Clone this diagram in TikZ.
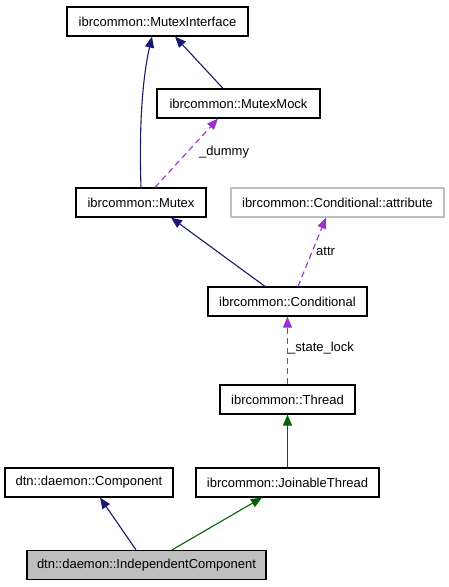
\documentclass[tikz,border=0pt]{standalone}
\usepackage{fontspec}
\setmainfont{Liberation Sans}
\usetikzlibrary{arrows.meta}
\definecolor{navyedge}{HTML}{191970}
\definecolor{greenedge}{HTML}{006400}
\definecolor{purpleedge}{HTML}{9A32CD}
\definecolor{graybox}{HTML}{BFBFBF}
\tikzset{
  cls/.style={draw=black, line width=1.2pt, fill=white, inner sep=0pt, minimum height=29pt, font=\fontsize{13}{15}\selectfont},
  inh/.style={color=navyedge, line width=1.1pt, -{Triangle[length=11pt,width=9pt]}},
  ginh/.style={color=greenedge, line width=1.1pt, -{Triangle[length=11pt,width=9pt]}},
  use/.style={color=purpleedge, line width=1.1pt, dash pattern=on 6pt off 4pt, -{Triangle[length=11pt,width=9pt]}},
  lbl/.style={anchor=west, inner sep=0pt, text=black, font=\fontsize{13}{15}\selectfont}
}
\begin{document}
\begin{tikzpicture}[x=1pt,y=-1pt]
\useasboundingbox[fill=white] (0,0) rectangle (449,587);
\node[cls, minimum width=181pt] (mi) at (157.5,21.5) {ibrcommon::MutexInterface};
\node[cls, minimum width=163pt] (mm) at (238.5,103.5) {ibrcommon::MutexMock};
\node[cls, minimum width=130pt] (mutex) at (141,202.5) {ibrcommon::Mutex};
\node[cls, draw=graybox, minimum width=213pt] (attr) at (337.5,202.5) {ibrcommon::Conditional::attribute};
\node[cls, minimum width=159pt] (cond) at (287.5,301.5) {ibrcommon::Conditional};
\node[cls, minimum width=135pt] (thread) at (287.5,399.5) {ibrcommon::Thread};
\node[cls, minimum width=168pt] (comp) at (89,482.5) {dtn::daemon::Component};
\node[cls, minimum width=183pt] (jt) at (287.5,482.5) {ibrcommon::JoinableThread};
\node[cls, fill=graybox, minimum width=239pt] (ic) at (146.5,565) {dtn::daemon::IndependentComponent};

\draw[inh] (mutex.north) .. controls (139,130) and (142,80) .. ([xshift=-5.5pt]mi.south);
\draw[inh] ([xshift=-15.5pt]mm.north) -- ([xshift=17.5pt]mi.south);
\draw[use] ([xshift=14pt]mutex.north) -- ([xshift=-20.5pt]mm.south);
\node[lbl] (ldummy) at (199,152) {\_dummy};
\draw[inh] ([xshift=-22.5pt]cond.north) -- ([xshift=30pt]mutex.south);
\draw[use] ([xshift=10.5pt]cond.north) -- ([xshift=-11.5pt]attr.south);
\node[lbl] (lattr) at (316,251) {attr};
\draw[use] (thread.north) -- (cond.south);
\node[lbl] (lstate) at (288,348) {\_state\_lock};
\draw[ginh] (jt.north) -- (thread.south);
\draw[inh] ([xshift=-10.5pt]ic.north) -- ([xshift=11pt]comp.south);
\draw[ginh] ([xshift=25.5pt]ic.north) -- ([xshift=-25.5pt]jt.south);
\end{tikzpicture}
\end{document}
